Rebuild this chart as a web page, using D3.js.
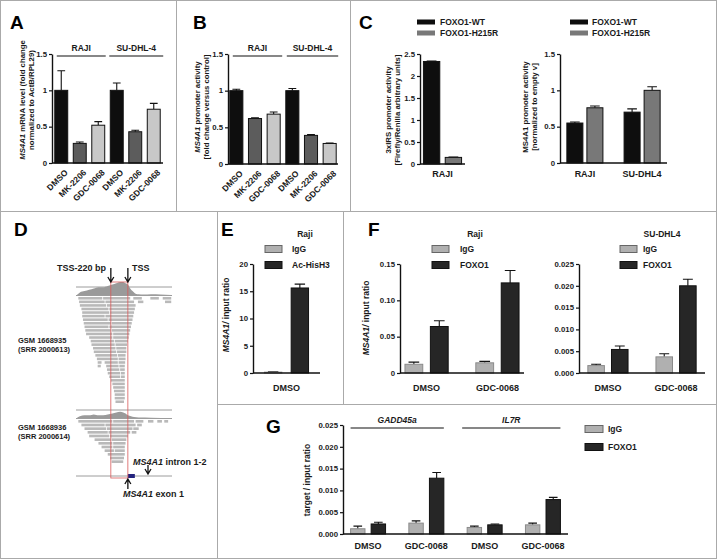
<!DOCTYPE html>
<html>
<head>
<meta charset="utf-8">
<script src="https://cdn.jsdelivr.net/npm/d3@7"></script>
<style>
  body { margin: 0; background: #fff; }
  svg { display: block; font-family: "Liberation Sans", Arial, Helvetica, sans-serif; font-weight: bold; }
</style>
</head>
<body>
<svg id="fig" width="717" height="559"></svg>
<script>
// ---------- data ----------
const drugs = ['DMSO', 'MK-2206', 'GDC-0068'];
const cellLinesAB = ['RAJI', 'SU-DHL-4'];
const mrnaMean = [1.0, 0.27, 0.52, 1.0, 0.43, 0.74];
const mrnaErr  = [0.27, 0.02, 0.05, 0.10, 0.02, 0.08];
const promMean = [1.0, 0.62, 0.68, 1.0, 0.39, 0.28];
const promErr  = [0.02, 0.01, 0.03, 0.03, 0.01, 0.005];

const foxoVariants = ['FOXO1-WT', 'FOXO1-H215R'];
const irsWT = [2.33], irsWTErr = [0.01];
const irsMut = [0.15], irsMutErr = [0.01];
const cellLinesC = ['RAJI', 'SU-DHL4'];
const ms4a1WT = [0.55, 0.70], ms4a1WTErr = [0.015, 0.045];
const ms4a1Mut = [0.76, 1.0], ms4a1MutErr = [0.025, 0.05];

const chipE = ['IgG', 'Ac-HisH3'];
const eIgG = [0.15], eIgGErr = [0.05];
const eAc = [15.6], eAcErr = [0.7];

const treatments = ['DMSO', 'GDC-0068'];
const chipF = ['IgG', 'FOXO1'];
const fRajiIgG = [0.012, 0.014], fRajiIgGErr = [0.003, 0.002];
const fRajiFoxo = [0.064, 0.124], fRajiFoxoErr = [0.008, 0.017];
const fSuIgG = [0.0017, 0.0037], fSuIgGErr = [0.0003, 0.0007];
const fSuFoxo = [0.0054, 0.020], fSuFoxoErr = [0.0008, 0.0015];

const genesG = ['GADD45a', 'IL7R'];
const gIgG = [0.0012, 0.0025, 0.0015, 0.0021], gIgGErr = [0.0006, 0.0005, 0.0003, 0.0004];
const gFoxo = [0.0023, 0.0128, 0.0021, 0.0079], gFoxoErr = [0.0004, 0.0013, 0.0002, 0.0005];

const ticksAB = [0, 0.5, 1, 1.5];
const ticksCL = [0, 0.5, 1, 1.5, 2, 2.5];
const ticksE = [0, 5, 10, 15, 20];
const ticksFL = [0, 0.05, 0.10, 0.15];
const ticksSmall = [0, 0.005, 0.010, 0.015, 0.020, 0.025];

// panel D: reads in bp relative to the TSS
const tssBox = [-220, 0];
const exon1 = [0, 90];
const cov1Pos = [-660, -620, -560, -500, -440, -380, -320, -260, -200, -150, -100, -60, -30, 0, 30, 60, 100, 140, 200, 300, 420, 560];
const cov1Dep = [0, 2, 3, 4, 5, 6, 6, 7, 8, 9, 10, 10, 9, 8, 5, 3, 1, 0.5, 0.3, 0.5, 0.3, 0];
const cov2Pos = [-660, -620, -560, -500, -440, -380, -320, -260, -200, -150, -100, -60, -30, 0, 40, 80, 140, 300, 560];
const cov2Dep = [0, 2, 3, 3, 4, 3, 3, 4, 5, 6, 7, 6, 5, 3, 2, 1, 0.5, 0.3, 0];
const reads1 = [
  [[-640, -330], [-320, 30], [70, 180], [290, 400], [450, 560]],
  [[-630, -300], [-290, 80], [130, 200], [480, 560]],
  [[-620, -280], [-270, 100]],
  [[-600, -250], [-240, 90]],
  [[-590, -240], [-230, 80]],
  [[-590, -300], [-290, 70]],
  [[-580, -260], [-250, 60]],
  [[-570, -220], [-210, 50]],
  [[-560, -250], [-240, 40]],
  [[-550, -220], [-210, 30]],
  [[-540, -200], [-190, 20]],
  [[-500, -200], [-190, 10]],
  [[-480, -180], [-170, 0]],
  [[-470, -170], [-160, -10]],
  [[-450, -160], [-150, -20]],
  [[-440, -150], [-140, -20]],
  [[-420, -140], [-130, -30]],
  [[-400, -130], [-120, -30]],
  [[-390, -340], [-300, -130], [-120, -35]],
  [[-390, -350], [-280, -120], [-110, -40]],
  [[-270, -110], [-100, -40]],
  [[-260, -100], [-90, -40]],
  [[-240, -100], [-90, -40]],
  [[-220, -40]],
  [[-200, -40]],
  [[-190, -40]],
  [[-180, -40]],
  [[-170, -40]],
  [[-170, -40]],
  [[-160, -50]]
];
const reads2 = [
  [[-640, -200], [-190, 80], [100, 200], [260, 330], [380, 440], [470, 520]],
  [[-600, -300], [-290, 100], [120, 180]],
  [[-560, -280], [-270, 60], [70, 140]],
  [[-520, -260], [-250, 30], [50, 110]],
  [[-500, -240], [-230, 0]],
  [[-430, -220], [-210, -20]],
  [[-380, -200], [-190, -30]],
  [[-340, -200], [-190, -40]],
  [[-300, -180], [-170, -40]],
  [[-260, -40]],
  [[-230, -50]],
  [[-210, -60]]
];

// ---------- styling ----------
const TXT = '#1a1a1a';
const INK = '#111';
const BLACK = '#0e0e0e';
const DARK = '#5c5c5c';
const LIGHT = '#c8c8c8';
const MIDGRAY = '#787878';
const IGG = '#b0b0b0';
const FOXO = '#262626';
const drugColor = [BLACK, DARK, LIGHT];

const svg = d3.select('#fig');
const tickLabelJobs = [];   // y tick labels, drawn last on top of everything

// panel frames
svg.append('rect').attr('x', 0.5).attr('y', 0.5).attr('width', 716).attr('height', 558)
  .attr('fill', 'none').attr('stroke', '#aaa');
const dividers = [
  [176, 0, 176, 211], [350, 0, 350, 211], [0, 211, 717, 211],
  [217, 211, 217, 559], [343, 211, 343, 404], [217, 404, 717, 404]
];
svg.selectAll('line.div').data(dividers).join('line').attr('class', 'div')
  .attr('x1', d => d[0] + 0.5).attr('y1', d => d[1] + 0.5)
  .attr('x2', d => d[2] + 0.5).attr('y2', d => d[3] + 0.5)
  .attr('stroke', '#aaa');

// panel letters
const letters = [['A', 10, 29], ['B', 193, 29], ['C', 359, 29], ['D', 14, 236], ['E', 221, 236], ['F', 368, 236], ['G', 266, 433]];
svg.selectAll('text.letter').data(letters).join('text').attr('class', 'letter')
  .attr('x', d => d[1]).attr('y', d => d[2]).attr('font-size', 19).attr('fill', '#000')
  .text(d => d[0]);

function barChart(o) {
  const y = d3.scaleLinear().domain(o.yDomain).range(o.yRange);
  const x0 = d3.scaleBand().domain(d3.range(o.nGroups)).range(o.xRange)
    .paddingInner(o.padIn).paddingOuter(o.padOut);
  const x1 = d3.scaleBand().domain(d3.range(o.series.length)).range([0, x0.bandwidth()])
    .paddingInner(o.seriesPad || 0);
  const g = svg.append('g');
  const bw = x1.bandwidth();
  o.series.forEach((s, si) => {
    const data = s.values.map((v, i) => ({ v, e: s.errors[i], i }));
    const cx = d => x0(d.i) + x1(si) + bw / 2;
    g.selectAll(null).data(data).join('path')
      .attr('d', d => `M${cx(d)},${y(d.v)}V${y(d.v + d.e)}M${cx(d) - bw * 0.3},${y(d.v + d.e)}H${cx(d) + bw * 0.3}`)
      .attr('stroke', INK).attr('stroke-width', 1.1).attr('fill', 'none');
    g.selectAll(null).data(data).join('rect')
      .attr('x', d => x0(d.i) + x1(si)).attr('width', bw)
      .attr('y', d => y(d.v)).attr('height', d => y(0) - y(d.v))
      .attr('fill', d => s.color(d.i)).attr('stroke', s.stroke || INK).attr('stroke-width', 1);
  });
  const ax = g.append('g').attr('transform', `translate(${o.axisX},0)`)
    .call(d3.axisLeft(y).tickValues(o.ticks).tickFormat('').tickSize(3).tickSizeOuter(0));
  ax.select('.domain').attr('stroke', INK).attr('stroke-width', 1.4);
  ax.selectAll('.tick line').attr('stroke', INK).attr('stroke-width', 1.2);
  g.append('line').attr('x1', o.axisX).attr('x2', o.axisEnd).attr('y1', y(0)).attr('y2', y(0))
    .attr('stroke', INK).attr('stroke-width', 1.4);
  tickLabelJobs.push({ y, x: o.axisX - 5, ticks: o.ticks, fmt: o.fmt });
  return { g, y, x0, x1, center: i => x0(i) + x0.bandwidth() / 2 };
}

function yTitle(x, y, lines, size) {
  const t = svg.append('text').attr('transform', `translate(${x},${y}) rotate(-90)`)
    .attr('text-anchor', 'middle').attr('font-size', size || 7.8).attr('fill', TXT);
  lines.forEach((parts, li) => {
    parts.forEach((p, pi) => {
      const ts = t.append('tspan').text(p[0]);
      if (p[1]) ts.attr('font-style', 'italic');
      if (pi === 0) ts.attr('x', 0).attr('dy', li === 0 ? 0 : '1.1em');
    });
  });
}

function bracket(xa, xb, y, label, italic) {
  svg.append('line').attr('x1', xa).attr('x2', xb).attr('y1', y).attr('y2', y)
    .attr('stroke', INK).attr('stroke-width', 1.1);
  svg.append('text').attr('x', (xa + xb) / 2).attr('y', y - 5).attr('text-anchor', 'middle')
    .attr('font-size', 8.5).attr('fill', TXT).attr('font-style', italic ? 'italic' : null).text(label);
}

function legend(x, ys, names, fills, strokes, w, h, tx) {
  names.forEach((n, i) => {
    svg.append('rect').attr('x', x).attr('y', ys[i] - h / 2).attr('width', w).attr('height', h)
      .attr('fill', fills[i]).attr('stroke', strokes[i] || 'none');
    svg.append('text').attr('x', tx).attr('y', ys[i] + 3).attr('font-size', 8.5).attr('fill', TXT).text(n);
  });
}

function xLabels(chart, labels, y, size) {
  labels.forEach((l, i) => {
    svg.append('text').attr('x', chart.center(i)).attr('y', y).attr('text-anchor', 'middle')
      .attr('font-size', size || 9).attr('fill', TXT).text(l);
  });
}

function rotLabels(chart, labels) {
  const y0 = chart.y(0);
  labels.forEach((l, i) => {
    svg.append('text').attr('transform', `translate(${chart.center(i) + 5},${y0 + 8}) rotate(-45)`)
      .attr('text-anchor', 'end').attr('dy', '0.35em').attr('font-size', 8.5).attr('fill', TXT).text(l);
  });
}

// ---------- A ----------
const catsAB = cellLinesAB.flatMap(() => drugs);
const fmtAB = d => (d === 0 ? '0' : String(d));
const chA = barChart({
  nGroups: 6, xRange: [52, 163], padIn: 0.3, padOut: 0.15, yDomain: [0, 1.5], yRange: [163, 54],
  axisX: 52, axisEnd: 163, ticks: ticksAB, fmt: fmtAB,
  series: [{ values: mrnaMean, errors: mrnaErr, color: i => drugColor[i % 3] }]
});
rotLabels(chA, catsAB);
bracket(chA.x0(0) + 2, chA.x0(2) + chA.x0.bandwidth() + 1, 56, cellLinesAB[0]);
bracket(chA.x0(3) - 1, chA.x0(5) + chA.x0.bandwidth() + 3, 56, cellLinesAB[1]);
yTitle(25, 100, [[['MS4A1', true], [' mRNA level (fold change']], [['normalized to ActB/RPL29)']]]);

// ---------- B ----------
const chB = barChart({
  nGroups: 6, xRange: [227, 339], padIn: 0.3, padOut: 0.15, yDomain: [0, 1.5], yRange: [164, 54],
  axisX: 228, axisEnd: 338, ticks: ticksAB, fmt: fmtAB,
  series: [{ values: promMean, errors: promErr, color: i => drugColor[i % 3] }]
});
rotLabels(chB, catsAB);
bracket(chB.x0(0) + 3, chB.x0(2) + chB.x0.bandwidth() + 2, 56, cellLinesAB[0]);
bracket(chB.x0(3) + 1, chB.x0(5) + chB.x0.bandwidth() + 2, 56, cellLinesAB[1]);
yTitle(200, 107, [[['MS4A1', true], [' promoter activity']], [['[fold change versus control]']]]);

// ---------- C ----------
const chCL = barChart({
  nGroups: 1, xRange: [420, 465], padIn: 0, padOut: 0.09, seriesPad: 0.25,
  yDomain: [0, 2.5], yRange: [164, 54], axisX: 420, axisEnd: 465, ticks: ticksCL, fmt: fmtAB,
  series: [
    { values: irsWT, errors: irsWTErr, color: () => BLACK },
    { values: irsMut, errors: irsMutErr, color: () => MIDGRAY }
  ]
});
xLabels(chCL, ['RAJI'], 177);
legend(417, [22, 33], foxoVariants, [BLACK, MIDGRAY], [], 18, 5, 440);
yTitle(391, 110, [[['3xIRS promoter activity']], [['[Firefly/Renilla arbitrary units]']]]);

const chCR = barChart({
  nGroups: 2, xRange: [560, 667], padIn: 0.37, padOut: 0.12, seriesPad: 0.2,
  yDomain: [0, 1.5], yRange: [163, 54], axisX: 560, axisEnd: 667, ticks: ticksAB, fmt: fmtAB,
  series: [
    { values: ms4a1WT, errors: ms4a1WTErr, color: () => BLACK },
    { values: ms4a1Mut, errors: ms4a1MutErr, color: () => MIDGRAY }
  ]
});
xLabels(chCR, cellLinesC, 177);
legend(570, [22, 33], foxoVariants, [BLACK, MIDGRAY], [], 18, 5, 592);
yTitle(528, 107, [[['MS4A1 promoter activity']], [['[normalized to empty v]']]]);

// ---------- D: read pile-up ----------
const xD = d3.scaleLinear().domain([-670, 570]).range([76, 172]);
const rowY1 = d3.scaleLinear().domain([0, reads1.length]).range([297, 404]);
const rowY2 = d3.scaleLinear().domain([0, reads2.length]).range([420, 464]);
const covY1 = d3.scaleLinear().domain([0, 10]).range([295, 282]);
const covY2 = d3.scaleLinear().domain([0, 10]).range([418, 409]);
const gD = svg.append('g');

function pileup(rows, rowY) {
  const segs = rows.flatMap((r, ri) => r.map(s => ({ ri, s })));
  gD.selectAll(null).data(segs).join('rect')
    .attr('x', d => xD(d.s[0])).attr('width', d => xD(d.s[1]) - xD(d.s[0]))
    .attr('y', d => rowY(d.ri)).attr('height', (rowY(1) - rowY(0)) * 0.72)
    .attr('fill', '#b9b9b9');
}
function coverage(pos, dep, cy) {
  const area = d3.area().x((d, i) => xD(pos[i])).y0(cy(0)).y1(d => cy(d)).curve(d3.curveMonotoneX);
  gD.append('path').datum(dep).attr('d', area).attr('fill', '#9a9a9a');
}
function hline(y) {
  gD.append('line').attr('x1', xD(-670)).attr('x2', xD(570)).attr('y1', y).attr('y2', y)
    .attr('stroke', '#9c9c9c').attr('stroke-width', 1);
}
hline(287); coverage(cov1Pos, cov1Dep, covY1); hline(295.5);
pileup(reads1, rowY1);
hline(410); coverage(cov2Pos, cov2Dep, covY2); hline(418.5);
pileup(reads2, rowY2);
// gene track
hline(476);
gD.append('rect').attr('x', xD(exon1[0])).attr('width', xD(exon1[1]) - xD(exon1[0]))
  .attr('y', 474).attr('height', 4).attr('fill', '#23237e');
// TSS window
gD.append('rect').attr('x', xD(tssBox[0])).attr('width', xD(tssBox[1]) - xD(tssBox[0]))
  .attr('y', 282).attr('height', 196).attr('fill', 'none').attr('stroke', '#d85a5a').attr('stroke-width', 0.8);

function arrow(x, ya, yb) {
  const dir = yb > ya ? -1 : 1;
  gD.append('path')
    .attr('d', `M${x},${ya}V${yb}M${x - 3},${yb + dir * 5}L${x},${yb}L${x + 3},${yb + dir * 5}`)
    .attr('stroke', '#111').attr('stroke-width', 1.3).attr('fill', 'none');
}
arrow(xD(tssBox[0]), 268, 282);
arrow(xD(tssBox[1]), 268, 282);
arrow(xD(260), 465, 474);
arrow(xD(exon1[0]), 489, 479);

const dText = (x, y, parts, size, anchor) => {
  const t = svg.append('text').attr('x', x).attr('y', y).attr('font-size', size).attr('fill', TXT)
    .attr('text-anchor', anchor || 'start');
  parts.forEach(p => { const s = t.append('tspan').text(p[0]); if (p[1]) s.attr('font-style', 'italic'); });
};
dText(106, 271, [['TSS-220 bp']], 9, 'end');
dText(132, 271, [['TSS']], 9);
dText(18, 343, [['GSM 1668935']], 7.5);
dText(18, 352, [['(SRR 2000613)']], 7.5);
dText(18, 430, [['GSM 1668936']], 7.5);
dText(18, 439, [['(SRR 2000614)']], 7.5);
dText(133, 465, [['MS4A1', true], [' intron 1-2']], 9);
dText(123, 497, [['MS4A1', true], [' exon 1']], 9);

// ---------- E ----------
const chE = barChart({
  nGroups: 1, xRange: [253, 320], padIn: 0, padOut: 0.26, seriesPad: 0.35,
  yDomain: [0, 20], yRange: [373, 264], axisX: 253, axisEnd: 320, ticks: ticksE, fmt: d => String(d),
  series: [
    { values: eIgG, errors: eIgGErr, color: () => IGG, stroke: '#8a8a8a' },
    { values: eAc, errors: eAcErr, color: () => FOXO }
  ]
});
xLabels(chE, ['DMSO'], 391);
svg.append('text').attr('x', 305).attr('y', 237).attr('text-anchor', 'middle').attr('font-size', 8.5).attr('fill', TXT).text('Raji');
legend(265, [249, 265], chipE, [IGG, FOXO], ['#666', '#111'], 17, 7, 292);
yTitle(229, 315, [[['MS4A1/', true], [' input ratio']]], 8.5);

// ---------- F ----------
const chFL = barChart({
  nGroups: 2, xRange: [400, 524], padIn: 0.39, padOut: 0.07, seriesPad: 0.3,
  yDomain: [0, 0.15], yRange: [373, 264], axisX: 400, axisEnd: 524, ticks: ticksFL,
  fmt: d => (d === 0 ? '0' : d.toFixed(2)),
  series: [
    { values: fRajiIgG, errors: fRajiIgGErr, color: () => IGG, stroke: '#8a8a8a' },
    { values: fRajiFoxo, errors: fRajiFoxoErr, color: () => FOXO }
  ]
});
xLabels(chFL, treatments, 391);
svg.append('text').attr('x', 475).attr('y', 237).attr('text-anchor', 'middle').attr('font-size', 8.5).attr('fill', TXT).text('Raji');
legend(432, [249, 265], chipF, [IGG, FOXO], ['#666', '#111'], 17, 7, 460);
yTitle(369, 318, [[['MS4A1/', true], [' input ratio']]], 8.5);

const chFR = barChart({
  nGroups: 2, xRange: [579, 705], padIn: 0.41, padOut: 0.13, seriesPad: 0.3,
  yDomain: [0, 0.025], yRange: [373, 264], axisX: 579, axisEnd: 705, ticks: ticksSmall,
  fmt: d => d.toFixed(3),
  series: [
    { values: fSuIgG, errors: fSuIgGErr, color: () => IGG, stroke: '#8a8a8a' },
    { values: fSuFoxo, errors: fSuFoxoErr, color: () => FOXO }
  ]
});
xLabels(chFR, treatments, 391);
svg.append('text').attr('x', 662).attr('y', 237).attr('text-anchor', 'middle').attr('font-size', 8.5).attr('fill', TXT).text('SU-DHL4');
legend(620, [249, 265], chipF, [IGG, FOXO], ['#666', '#111'], 17, 7, 643);

// ---------- G ----------
const chG = barChart({
  nGroups: 4, xRange: [343, 568], padIn: 0.4, padOut: 0.13, seriesPad: 0.3,
  yDomain: [0, 0.025], yRange: [534, 425], axisX: 343, axisEnd: 568, ticks: ticksSmall,
  fmt: d => d.toFixed(3),
  series: [
    { values: gIgG, errors: gIgGErr, color: () => IGG, stroke: '#8a8a8a' },
    { values: gFoxo, errors: gFoxoErr, color: () => FOXO }
  ]
});
xLabels(chG, genesG.flatMap(() => treatments), 549);
bracket(chG.x0(0), chG.x0(1) + chG.x0.bandwidth(), 428, genesG[0], true);
bracket(chG.x0(2) - 5, chG.x0(3) + chG.x0.bandwidth(), 428, genesG[1], true);
legend(585, [429, 447], chipF, [IGG, FOXO], ['#666', '#111'], 18, 7, 608);
yTitle(310, 480, [[['target / input ratio']]], 8.5);

// ---------- y tick labels, last so nothing sits on top of them ----------
const gTicks = svg.append('g').attr('class', 'tick-labels');
tickLabelJobs.forEach(job => {
  job.ticks.forEach(t => {
    gTicks.append('text')
      .attr('x', job.x).attr('y', job.y(t) + 2.8)
      .attr('text-anchor', 'end').attr('font-size', 7.8).attr('fill', TXT)
      .text(job.fmt(t));
  });
});
</script>
</body>
</html>
